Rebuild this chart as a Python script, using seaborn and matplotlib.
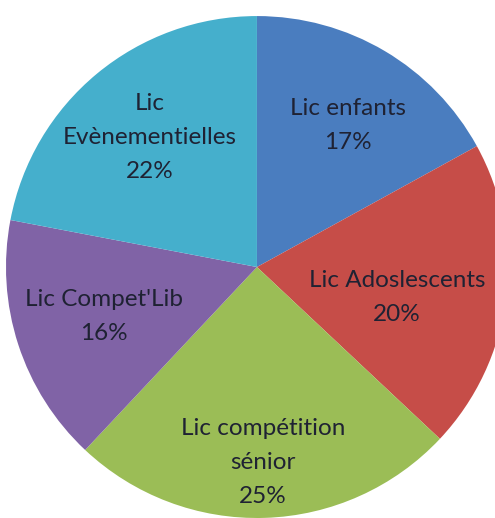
import numpy as np
import matplotlib
matplotlib.use("Agg")
import matplotlib.pyplot as plt
import seaborn as sns

# slices, clockwise from 12 o'clock
labels = ["Lic enfants", "Lic Adoslescents", "Lic compétition\nsénior",
          "Lic Compet'Lib", "Lic\nEvènementielles"]
shares = [17, 20, 25, 16, 22]
colors = ["#4a7dbf", "#c64d48", "#9bbd56", "#8063a6", "#45afcc"]
# where each label sits: fraction of radius, and angle nudge in degrees
label_r = [0.67, 0.57, 0.78, 0.64, 0.67]
label_nudge = [-2, -5, 0, 0, 0]

sns.set_theme(style="white")
plt.rcParams["font.family"] = ["Lato", "DejaVu Sans"]

fig = plt.figure(figsize=(4.95, 5.18), dpi=100)
ax = fig.add_axes([0.0121, 0.0, 1.014, 0.969])

wedges, _ = ax.pie(shares, colors=sns.color_palette(colors), startangle=90,
                   counterclock=False, radius=1,
                   wedgeprops=dict(linewidth=0))

for w, lab, val, r, nd in zip(wedges, labels, shares, label_r, label_nudge):
    mid = np.deg2rad((w.theta1 + w.theta2) / 2 + nd)
    ax.text(r * np.cos(mid), r * np.sin(mid), f"{lab}\n{val}%",
            ha="center", va="center", fontsize=17.5, color="#1f2233",
            linespacing=1.78)

ax.set_xlim(-1, 1)
ax.set_ylim(-1, 1)
ax.set_aspect("auto")
ax.axis("off")

fig.savefig("out.png", dpi=100)
